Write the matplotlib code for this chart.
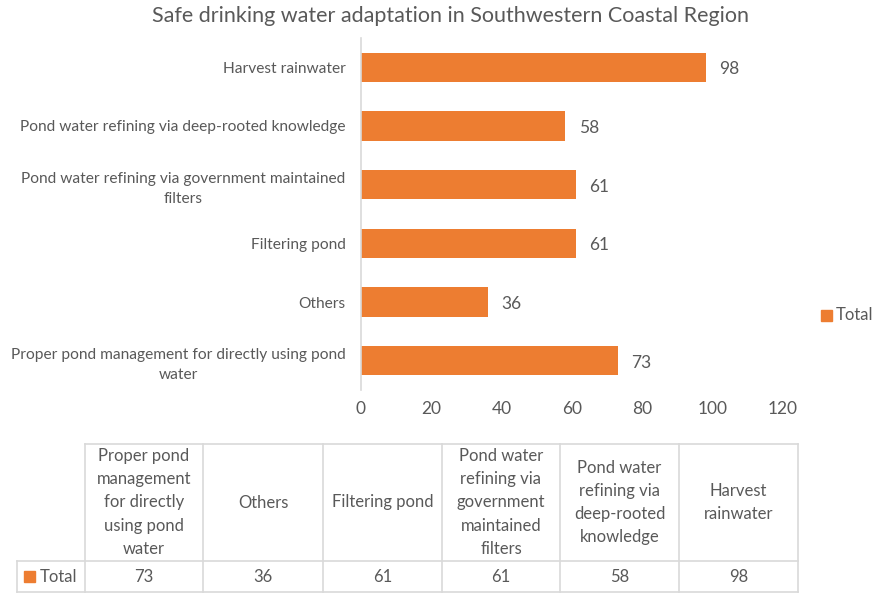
import matplotlib
matplotlib.use("Agg")
import matplotlib.pyplot as plt
from matplotlib.lines import Line2D
from matplotlib.patches import Rectangle

# Categories in data order (first category drawn at the bottom of the bar chart)
categories = [
    "Proper pond management for directly using pond\nwater",
    "Others",
    "Filtering pond",
    "Pond water refining via government maintained\nfilters",
    "Pond water refining via deep-rooted knowledge",
    "Harvest rainwater",
]
table_headers = [
    "Proper pond\nmanagement\nfor directly\nusing pond\nwater",
    "Others",
    "Filtering pond",
    "Pond water\nrefining via\ngovernment\nmaintained\nfilters",
    "Pond water\nrefining via\ndeep-rooted\nknowledge",
    "Harvest\nrainwater",
]
series_name = "Total"
values = [73, 36, 61, 61, 58, 98]
x_ticks = [0, 20, 40, 60, 80, 100, 120]

ORANGE = "#ED7D31"
TEXT = "#595959"
GRID = "#D9D9D9"
FONT = "Lato"

W, H = 879, 593
fig = plt.figure(figsize=(W / 100, H / 100), dpi=100)


def fx(px):
    return px / W


def fy(py):
    return 1 - py / H


ax = fig.add_axes([fx(361), fy(390), fx(783) - fx(361), fy(38) - fy(390)])
ypos = list(range(len(categories)))
bars = ax.barh(ypos, values, height=0.5, color=ORANGE)
ax.set_ylim(-0.5, len(categories) - 0.5)
ax.set_xlim(x_ticks[0], x_ticks[-1])
ax.set_xticks(x_ticks)
ax.set_xticklabels([str(t) for t in x_ticks], fontsize=12.5, color=TEXT, family=FONT)
ax.tick_params(axis="x", length=0, pad=8)
ax.set_yticks(ypos)
ax.set_yticklabels(categories, fontsize=11.2, color=TEXT, family=FONT,
                   multialignment="center", linespacing=1.5)
ax.tick_params(axis="y", length=0, pad=11)
for s in ["top", "right", "bottom"]:
    ax.spines[s].set_visible(False)
ax.spines["left"].set_color(GRID)
ax.spines["left"].set_linewidth(1.2)
ax.patch.set_visible(False)

for b, v in zip(bars, values):
    ax.annotate(str(v), (b.get_width(), b.get_y() + b.get_height() / 2),
                xytext=(10, -1.5), textcoords="offset points", va="center", ha="left",
                fontsize=12.5, color=TEXT, family=FONT)

fig.text(fx(451), fy(16), "Safe drinking water adaptation in Southwestern Coastal Region",
         ha="center", va="center", fontsize=15.5, color=TEXT, family=FONT)

# Legend on the right
fig.add_artist(Rectangle((fx(821), fy(321)), fx(11), fy(310) - fy(321),
                         transform=fig.transFigure, color=ORANGE))
fig.text(fx(836), fy(315), series_name, ha="left", va="center",
         fontsize=12, color=TEXT, family=FONT)

# Data table under the chart
col_edges = [85, 203, 323, 442, 560, 679, 798]
row_left = 17
top, mid, bot = 444, 561, 592


def hline(x0, x1, y):
    fig.add_artist(Line2D([fx(x0), fx(x1)], [fy(y), fy(y)], color=GRID, lw=1.2,
                          transform=fig.transFigure))


def vline(x, y0, y1):
    fig.add_artist(Line2D([fx(x), fx(x)], [fy(y0), fy(y1)], color=GRID, lw=1.2,
                          transform=fig.transFigure))


hline(col_edges[0], col_edges[-1], top)
hline(row_left, col_edges[-1], mid)
hline(row_left, col_edges[-1], bot)
for x in col_edges:
    vline(x, top, bot)
vline(row_left, mid, bot)

for i, (hdr, v) in enumerate(zip(table_headers, values)):
    cx = (col_edges[i] + col_edges[i + 1]) / 2
    fig.text(fx(cx), fy((top + mid) / 2), hdr, ha="center", va="center",
             fontsize=12, color=TEXT, family=FONT, linespacing=1.55)
    fig.text(fx(cx), fy((mid + bot) / 2), str(v), ha="center", va="center",
             fontsize=12, color=TEXT, family=FONT)

fig.add_artist(Rectangle((fx(24), fy(582)), fx(11), fy(571) - fy(582),
                         transform=fig.transFigure, color=ORANGE))
fig.text(fx(40), fy(577), series_name, ha="left", va="center",
         fontsize=12, color=TEXT, family=FONT)

fig.savefig("out.png", dpi=100, facecolor="white")
